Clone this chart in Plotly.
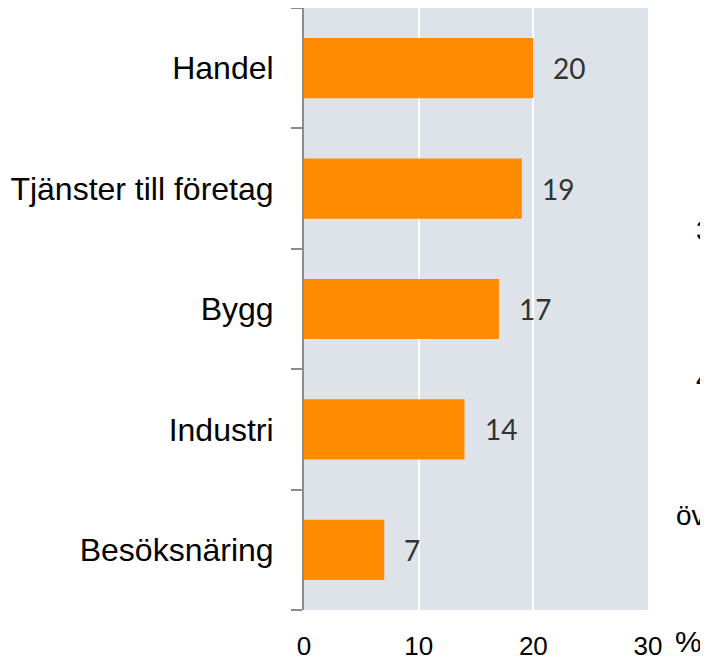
import plotly.graph_objects as go

categories = ["Handel", "Tjänster till företag", "Bygg", "Industri", "Besöksnäring"]
values = [20, 19, 17, 14, 7]
x_ticks = [0, 10, 20, 30]
x_tick_labels = ["0", "10", "20", "30"]
unit_label = "%"
stray_texts = ["3", "4", "öv"]

fig = go.Figure()
fig.add_trace(go.Bar(
    y=categories, x=values, orientation="h",
    marker=dict(color="#FF8C00", line=dict(width=0)),
    width=0.5, hoverinfo="skip",
))

for c, v in zip(categories, values):
    fig.add_annotation(x=v, y=c, xref="x", yref="y", text=str(v),
                       showarrow=False, xanchor="left", yanchor="middle",
                       xshift=18, font=dict(family="Lato", size=28, color="#333333"))

fig.add_annotation(x=1, y=0, xref="paper", yref="paper", text=unit_label,
                   showarrow=False, xanchor="left", yanchor="middle",
                   xshift=25, yshift=-31,
                   font=dict(family="Liberation Sans, Arial", size=30, color="#000000"))

# clipped texts at right edge of the slide
stray_pos = [(1, 0.63), (1, 0.385), (1, 0.157)]
stray_shift = [46, 46, 26]
for t, (px, py), sh in zip(stray_texts, stray_pos, stray_shift):
    fig.add_annotation(x=px, y=py, xref="paper", yref="paper", text=t,
                       showarrow=False, xanchor="left", yanchor="middle",
                       xshift=sh,
                       font=dict(family="Liberation Sans, Arial", size=28, color="#000000"))

fig.update_layout(
    width=700, height=653,
    margin=dict(l=296, r=60, t=0, b=48),
    paper_bgcolor="white", plot_bgcolor="#DDE3E9",
    showlegend=False,
    xaxis=dict(range=[0, 30], tickvals=x_ticks, ticktext=x_tick_labels,
               showgrid=True, gridcolor="white", gridwidth=2,
               zeroline=False, showline=False, ticks="",
               ticklabelstandoff=18,
               tickfont=dict(family="Liberation Sans, Arial", size=26, color="#000000"),
               fixedrange=True),
    yaxis=dict(categoryorder="array", categoryarray=categories[::-1],
               range=[-0.5, 4.5],
               showline=True, linecolor="#8C8C8C", linewidth=2,
               ticks="outside", tickson="boundaries", ticklen=11,
               tickcolor="#8C8C8C", tickwidth=2,
               ticklabelstandoff=22,
               showgrid=False, zeroline=False,
               tickfont=dict(family="Liberation Sans, Arial", size=32, color="#000000"),
               fixedrange=True),
)

fig.write_html("out.html")
